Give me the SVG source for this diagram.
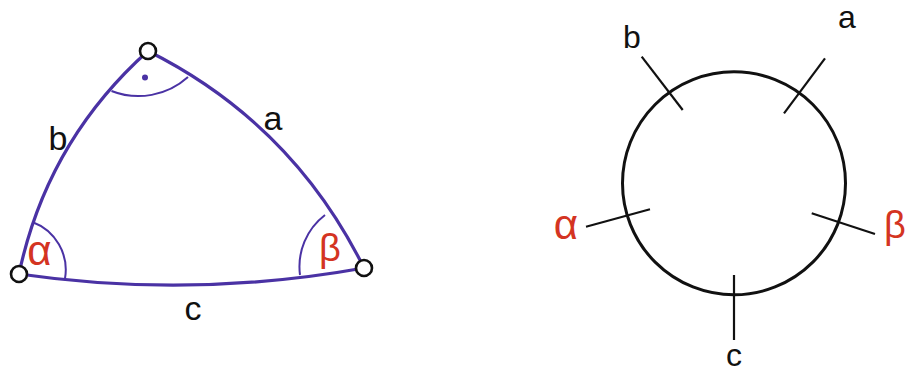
<svg xmlns="http://www.w3.org/2000/svg" width="909" height="374" viewBox="0 0 909 374">
<style>
.side{fill:none;stroke:#4a32a4;stroke-width:3.2;stroke-linecap:round}
.ang{fill:none;stroke:#4a32a4;stroke-width:2}
.vtx{fill:#fff;stroke:#111;stroke-width:2.6}
.tick{stroke:#111;stroke-width:2.2}
.lbl{font-family:"Liberation Sans",Arial,sans-serif;font-size:34px;fill:#111;text-anchor:middle}
.lbl2{font-family:"Liberation Sans",Arial,sans-serif;font-size:32px;fill:#111;text-anchor:middle}
.red{fill:#d43422}
.alpha{font-size:42px}
.beta{font-size:38px}
</style>
<rect width="909" height="374" fill="#fff"/>
<g id="connectors">
<path id="side-b" class="side" d="M148,51 Q47,141.5 19,274"/>
<path id="side-a" class="side" d="M148,51 Q292,123 364,268"/>
<path id="side-c" class="side" d="M19,274 Q191.5,299 364,268"/>
</g>
<g id="angle-gamma">
<path class="ang" d="M111.5,91 A74,74 0 0 0 188,77"/>
<circle cx="145" cy="77.5" r="3" fill="#4a32a4"/>
</g>
<g id="angle-alpha">
<path class="ang" d="M32.3,222 A51,51 0 0 1 65,278.5"/>
<text class="lbl red alpha" x="39.5" y="265">α</text>
</g>
<g id="angle-beta">
<path class="ang" d="M325,215 A65,65 0 0 0 300,275"/>
<text class="lbl red beta" x="330" y="261">β</text>
</g>
<g id="vertex-top"><circle class="vtx" cx="148" cy="51" r="8"/></g>
<g id="vertex-left"><circle class="vtx" cx="19" cy="274" r="8"/></g>
<g id="vertex-right"><circle class="vtx" cx="364" cy="268" r="8"/></g>
<g id="labels-left">
<text class="lbl" x="58" y="150">b</text>
<text class="lbl" x="273" y="130">a</text>
<text class="lbl" x="193" y="320">c</text>
</g>
<g id="circle-diagram">
<circle cx="734" cy="183.3" r="111.5" fill="none" stroke="#111" stroke-width="3"/>
<line class="tick" x1="641.7" y1="56.7" x2="682.7" y2="110"/>
<line class="tick" x1="825" y1="58.3" x2="784" y2="113.3"/>
<line class="tick" x1="586" y1="226.7" x2="650" y2="209.3"/>
<line class="tick" x1="811.7" y1="213.3" x2="875" y2="234"/>
<line class="tick" x1="734" y1="275" x2="734" y2="340"/>
<text class="lbl2" x="632" y="48">b</text>
<text class="lbl2" x="847" y="28">a</text>
<text class="lbl2 red alpha" x="566" y="239">α</text>
<text class="lbl2 red beta" x="895" y="238">β</text>
<text class="lbl2" x="734" y="366">c</text>
</g>
</svg>
